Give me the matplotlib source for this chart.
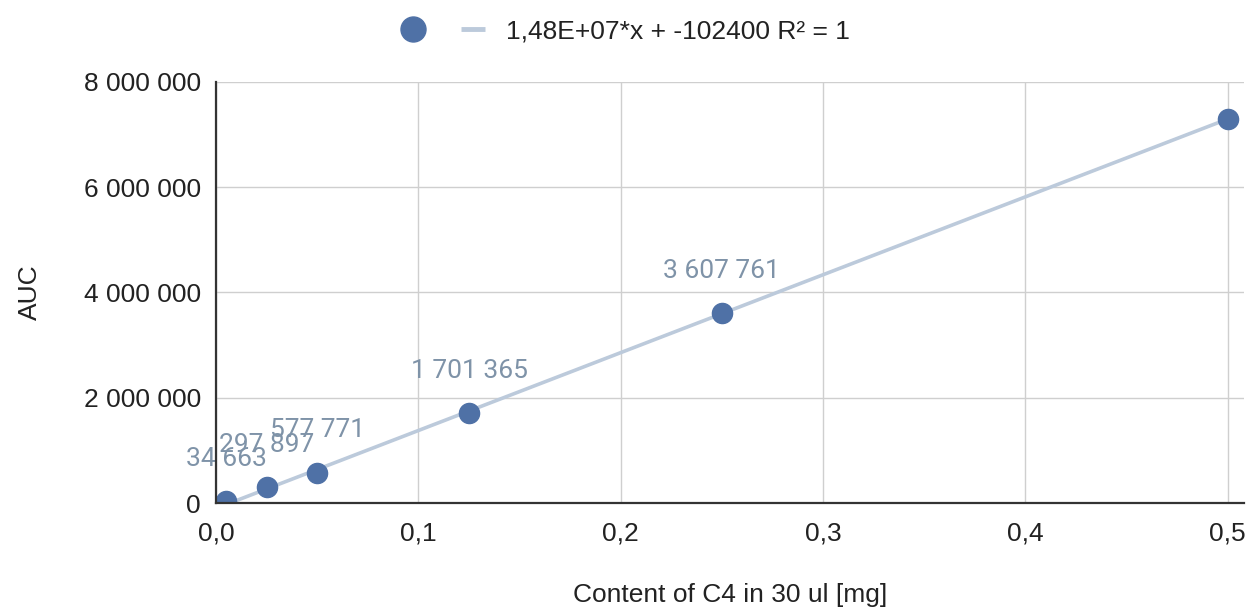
import matplotlib
matplotlib.use("Agg")
import matplotlib.pyplot as plt
from matplotlib.lines import Line2D
from matplotlib.ticker import FuncFormatter, MultipleLocator
import numpy as np

# Data
content_mg = [0.005, 0.025, 0.05, 0.125, 0.25, 0.5]
auc = [34663, 297897, 577771, 1701365, 3607761, 7290000]
show_label = [True, True, True, True, True, False]
slope = 1.48e7
intercept = -102400
legend_text = "1,48E+07*x + -102400 R\u00b2 = 1"
x_label = "Content of C4 in 30 ul [mg]"
y_label = "AUC"

POINT_C = "#4f71a6"
LINE_C = "#bccadb"
LABEL_C = "#7f93a8"
TEXT_C = "#222222"
GRID_C = "#cfcfcf"
AXIS_C = "#333333"

plt.rcParams['font.family'] = ['Liberation Sans', 'DejaVu Sans']

fig = plt.figure(figsize=(12.51, 6.10), dpi=100)
ax = fig.add_axes([0.1727, 0.1754, 0.8217, 0.6902])

xs = np.array([0.0, max(content_mg)])
ax.plot(xs, slope * xs + intercept, color=LINE_C, lw=2.6, zorder=2,
        solid_capstyle='butt')
ax.plot(content_mg, auc, 'o', color=POINT_C, ms=14.5, mec=POINT_C, zorder=3)

def thousands(v):
    return f"{int(round(v)):,}".replace(",", " ")

for x, y, s in zip(content_mg, auc, show_label):
    if s:
        ax.annotate(thousands(y), (x, y), xytext=(0, 25.5), textcoords='offset points',
                    ha='center', va='baseline', fontsize=19, color=LABEL_C,
                    family=['Roboto', 'DejaVu Sans'], zorder=4)

ax.set_xlim(0, 0.508)
ax.set_ylim(0, 8000000)
ax.xaxis.set_major_locator(MultipleLocator(0.1))
ax.yaxis.set_major_locator(MultipleLocator(2000000))
ax.xaxis.set_major_formatter(FuncFormatter(lambda v, p: f"{v:.1f}".replace(".", ",")))
ax.yaxis.set_major_formatter(FuncFormatter(lambda v, p: thousands(v)))

ax.grid(True, color=GRID_C, lw=1.0, zorder=0)
ax.set_axisbelow(True)
for s in ['top', 'right']:
    ax.spines[s].set_visible(False)
for s in ['left', 'bottom']:
    ax.spines[s].set_color(AXIS_C)
    ax.spines[s].set_linewidth(1.6)
    ax.spines[s].set_zorder(5)
ax.tick_params(length=0, labelsize=19, colors=TEXT_C)
ax.tick_params(axis='x', pad=13)
ax.tick_params(axis='y', pad=11)

ax.set_xlabel(x_label, fontsize=19, color=TEXT_C, labelpad=27)
ax.set_ylabel(y_label, fontsize=19, color=TEXT_C, labelpad=30)

handles = [Line2D([], [], ls='none', marker='o', ms=18, color=POINT_C),
           Line2D([], [], color=LINE_C, lw=3.5, solid_capstyle='butt')]
fig.legend(handles, ["", legend_text], loc='center', bbox_to_anchor=(0.5, 0.948),
           ncol=2, frameon=False, fontsize=19, handlelength=0.9,
           columnspacing=0.6, handletextpad=0.77, labelcolor=TEXT_C)

fig.savefig("out.png", dpi=100)
